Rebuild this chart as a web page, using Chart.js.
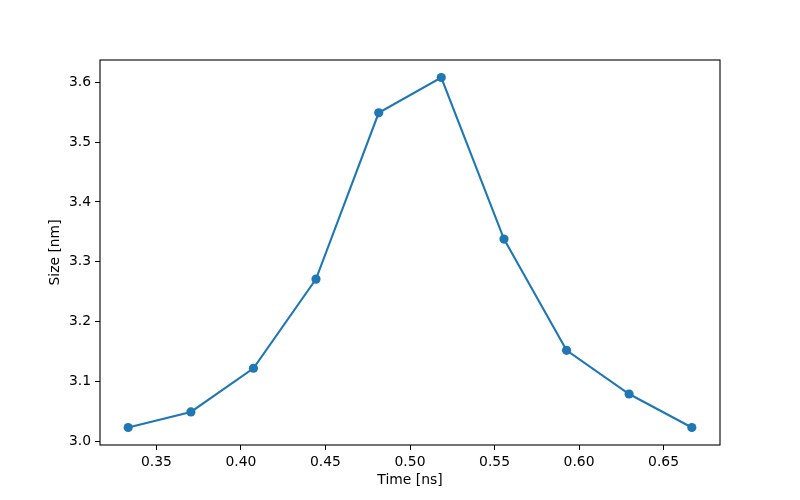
<!DOCTYPE html>
<html>
<head>
<meta charset="utf-8">
<script src="https://cdn.jsdelivr.net/npm/chart.js@4"></script>
<style>
  html, body { margin: 0; padding: 0; background: #ffffff; }
  #wrap { width: 800px; height: 500px; }
</style>
</head>
<body>
<div id="wrap"><canvas id="c" width="800" height="500"></canvas></div>
<script>
const timeNs = [0.3333, 0.3704, 0.4074, 0.4444, 0.4815, 0.5185, 0.5556, 0.5926, 0.6296, 0.6667];
const sizeNm = [3.023, 3.049, 3.122, 3.271, 3.549, 3.608, 3.338, 3.152, 3.079, 3.023];
const xTicks = [0.35, 0.40, 0.45, 0.50, 0.55, 0.60, 0.65];
const yTicks = [3.0, 3.1, 3.2, 3.3, 3.4, 3.5, 3.6];
const xLabel = 'Time [ns]';
const yLabel = 'Size [nm]';

const points = timeNs.map((t, i) => ({ x: t, y: sizeNm[i] }));

function padRange(arr) {
  const mn = Math.min(...arr), mx = Math.max(...arr);
  const m = (mx - mn) * 0.05;
  return [mn - m, mx + m];
}
const [xMin, xMax] = padRange(timeNs);
const [yMin, yMax] = padRange(sizeNm);

const font = { family: 'DejaVu Sans', size: 13.9 };

const framePlugin = {
  id: 'frame',
  afterDraw(chart) {
    const { ctx, chartArea: a } = chart;
    ctx.save();
    ctx.strokeStyle = '#000';
    ctx.lineWidth = 1.1;
    ctx.strokeRect(a.left, a.top, a.right - a.left, a.bottom - a.top);
    ctx.restore();
  }
};

new Chart(document.getElementById('c'), {
  type: 'scatter',
  data: {
    datasets: [{
      data: points,
      showLine: true,
      borderColor: '#1f77b4',
      backgroundColor: '#1f77b4',
      borderWidth: 2.1,
      pointRadius: 4.6,
      pointHoverRadius: 4.6,
      pointBorderWidth: 0,
      tension: 0
    }]
  },
  options: {
    responsive: false,
    animation: false,
    devicePixelRatio: 1,
    layout: { padding: { left: 0, right: 80, top: 60, bottom: 0 } },
    plugins: { legend: { display: false }, tooltip: { enabled: false } },
    scales: {
      x: {
        type: 'linear',
        min: xMin,
        max: xMax,
        afterBuildTicks: s => { s.ticks = xTicks.map(v => ({ value: v })); },
        afterFit: s => { s.height = 55; },
        border: { display: false },
        grid: { drawOnChartArea: false, drawTicks: true, tickLength: 5, tickColor: '#000', tickWidth: 1 },
        ticks: { color: '#000', font, padding: 4, maxRotation: 0, callback: v => v.toFixed(2) },
        title: { display: true, text: xLabel, color: '#000', font, padding: { top: 0, bottom: 11.6 } }
      },
      y: {
        type: 'linear',
        min: yMin,
        max: yMax,
        afterBuildTicks: s => { s.ticks = yTicks.map(v => ({ value: v })); },
        afterFit: s => { s.width = 100; },
        border: { display: false },
        grid: { drawOnChartArea: false, drawTicks: true, tickLength: 5, tickColor: '#000', tickWidth: 1 },
        ticks: { color: '#000', font, padding: 4, callback: v => v.toFixed(1) },
        title: { display: true, text: yLabel, color: '#000', font, padding: { top: 46.6, bottom: 0 } }
      }
    }
  },
  plugins: [framePlugin]
});
</script>
</body>
</html>
